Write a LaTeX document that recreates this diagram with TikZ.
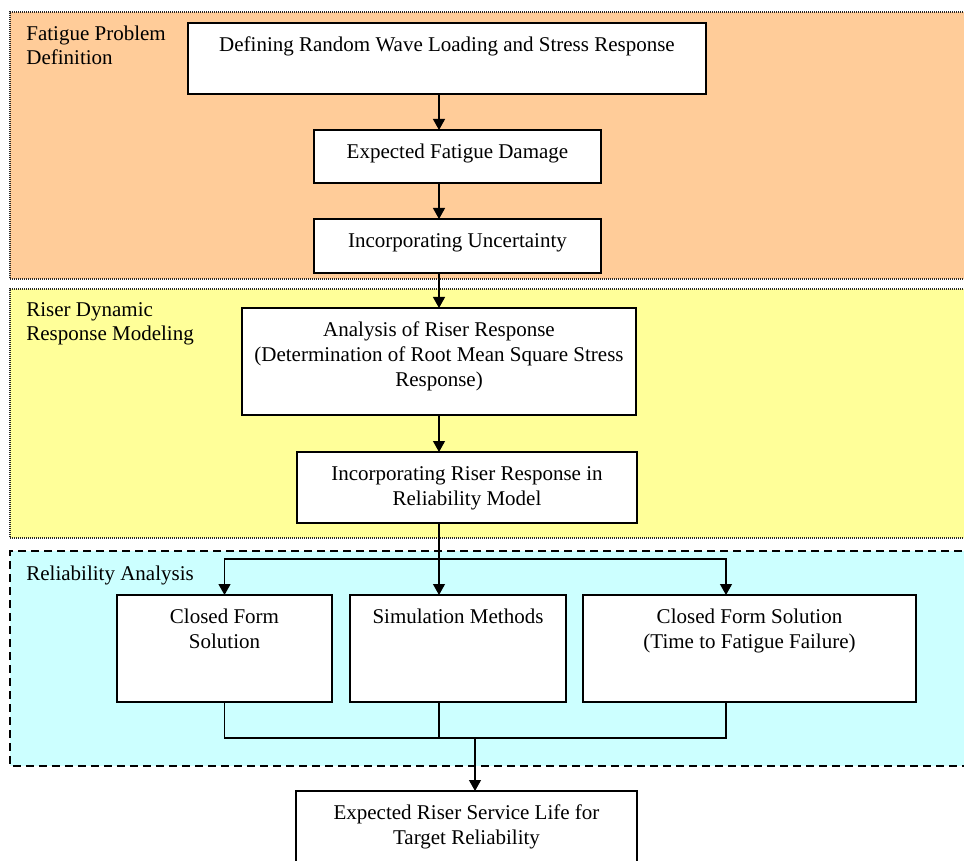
\documentclass[tikz,border=0pt]{standalone}
\usepackage{fontspec}
\setmainfont{Liberation Serif}
\usetikzlibrary{arrows.meta}
\definecolor{bandorange}{HTML}{FFCC99}
\definecolor{bandyellow}{HTML}{FFFF99}
\definecolor{bandcyan}{HTML}{CCFFFF}
\newcommand\boxtext[3]{\parbox[c][#2][t]{#1}{\centering\vspace*{5.5pt}\strut #3\par}}
\tikzset{
  band/.style={line width=0.6pt},
  dottedband/.style={band, draw=black!85, dash pattern=on 0.5pt off 0.5pt},
  dashedband/.style={band, draw=black, dash pattern=on 4pt off 2.5pt},
  stepbox/.style={draw=black, fill=white, line width=0.6pt, inner sep=0pt, outer sep=0pt, anchor=north west, font=\fontsize{10.5}{12.5}\selectfont},
  bandlabel/.style={anchor=base west, inner sep=0pt, align=left, font=\fontsize{10.5}{12}\selectfont},
  conn/.style={line width=0.6pt, draw=black},
  arr/.style={conn, -{Triangle[length=5.5pt,width=6pt]}}
}
\begin{document}
\begin{tikzpicture}[x=0.5pt,y=-0.5pt]
\useasboundingbox (0,0) rectangle (964,861);
\clip (0,0) rectangle (964,861);
% bands
\path[fill=bandorange] (10,12) rectangle (975,279);
\draw[dottedband] (975,12) -- (10,12) -- (10,279) -- (975,279);
\path[fill=bandyellow] (10,289) rectangle (975,538);
\draw[dottedband] (975,289) -- (10,289) -- (10,538) -- (975,538);
\path[fill=bandcyan] (10,551) rectangle (975,766);
\draw[dashedband] (975,551) -- (10,551) -- (10,766) -- (975,766);
% band labels (anchored at the baseline of the last line)
\node[bandlabel] (l1) at (26,65) {Fatigue Problem\\Definition};
\node[bandlabel] (l2) at (26,341) {Riser Dynamic\\Response Modeling};
\node[bandlabel] (l3) at (26,580) {Reliability Analysis};
% boxes
\node[stepbox] (b1) at (188,23) {\boxtext{259pt}{35.5pt}{Defining Random Wave Loading and Stress Response}};
\node[stepbox] (b2) at (314,130) {\boxtext{143.5pt}{26.5pt}{Expected Fatigue Damage}};
\node[stepbox] (b3) at (314,219) {\boxtext{143.5pt}{27pt}{Incorporating Uncertainty}};
\node[stepbox] (b4) at (242,308) {\boxtext{197pt}{53.5pt}{Analysis of Riser Response\\\strut(Determination of Root Mean Square Stress\\\strut Response)}};
\node[stepbox] (b5) at (297,452) {\boxtext{170pt}{35.5pt}{Incorporating Riser Response in\\\strut Reliability Model}};
\node[stepbox] (cf1) at (117,595) {\boxtext{107.5pt}{53.5pt}{Closed Form\\\strut Solution}};
\node[stepbox] (sim) at (350,595) {\boxtext{108pt}{53.5pt}{Simulation Methods}};
\node[stepbox] (cf2) at (583,595) {\boxtext{166.5pt}{53.5pt}{Closed Form Solution\\\strut(Time to Fatigue Failure)}};
\node[stepbox] (fin) at (296,791) {\boxtext{170.5pt}{40pt}{Expected Riser Service Life for\\\strut Target Reliability}};
% helper coordinates
\coordinate (ax) at (439,0);
\coordinate (c2x) at (726,0);
\coordinate (jt) at (439,559);
\coordinate (jb) at (475,738);
% connectors
\draw[arr] (b1.south -| ax) -- (b2.north -| ax);
\draw[arr] (b2.south -| ax) -- (b3.north -| ax);
\draw[arr] (b3.south -| ax) -- (b4.north -| ax);
\draw[arr] (b4.south -| ax) -- (b5.north -| ax);
\draw[arr] (b5.south -| ax) -- (sim.north -| ax);
\draw[arr] (jt) -| (cf1.north);
\draw[arr] (jt) -| (cf2.north -| c2x);
\draw[conn] (cf1.south) -- (cf1.south |- jb) -- (jb -| c2x) -- (cf2.south -| c2x);
\draw[conn] (sim.south -| ax) -- (ax |- jb);
\draw[arr] (jb) -- (fin.north -| jb);
\end{tikzpicture}
\end{document}
